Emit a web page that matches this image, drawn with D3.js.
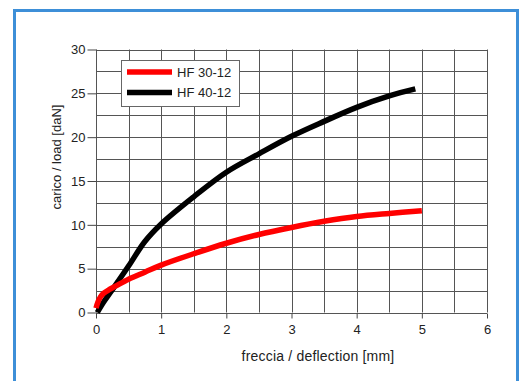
<!DOCTYPE html>
<html>
<head>
<meta charset="utf-8">
<script src="https://cdn.jsdelivr.net/npm/d3@7"></script>
<style>
  body { margin:0; background:#fff; }
  svg text { font-family: "Liberation Sans", Arial, sans-serif; fill:#222; }
</style>
</head>
<body>
<script>
// data
var seriesNames = ["HF 30-12", "HF 40-12"];
var seriesColors = ["#ff0000", "#000000"];
var hf30x = [0, 0.03, 0.07, 0.12, 0.2, 0.3, 0.5, 0.75, 1, 1.5, 2, 2.5, 3, 3.5, 4, 4.5, 5];
var hf30y = [0.5, 1.2, 1.8, 2.2, 2.6, 3.0, 3.8, 4.6, 5.4, 6.7, 7.9, 8.9, 9.7, 10.4, 10.95, 11.3, 11.6];
var hf40x = [0.02, 0.1, 0.25, 0.5, 0.75, 1, 1.5, 2, 2.5, 3, 3.5, 4, 4.5, 4.9];
var hf40y = [0, 1.0, 2.6, 5.3, 8.1, 10.1, 13.2, 16.0, 18.1, 20.1, 21.8, 23.4, 24.7, 25.5];
var xTicks = [0, 1, 2, 3, 4, 5, 6];
var yTicks = [0, 5, 10, 15, 20, 25, 30];

var width = 531, height = 381;
var svg = d3.select("body").append("svg")
  .attr("width", width).attr("height", height);

// blue frame
svg.append("rect")
  .attr("x", 14.5).attr("y", 10.5)
  .attr("width", 503).attr("height", 380)
  .attr("fill", "none").attr("stroke", "#3d8fd8").attr("stroke-width", 3);

var x = d3.scaleLinear().domain([0, 6]).range([96, 487]);
var y = d3.scaleLinear().domain([0, 30]).range([312.5, 49.5]);

var g = svg.append("g");

// grid
var gx = d3.range(0, 6.01, 0.5), gy = d3.range(0, 30.01, 2.5);
g.selectAll(".vx").data(gx).enter().append("line")
  .attr("x1", d => Math.round(x(d)) + 0.5).attr("x2", d => Math.round(x(d)) + 0.5)
  .attr("y1", y(0)).attr("y2", y(30))
  .attr("stroke", "#555").attr("stroke-width", 1);
g.selectAll(".hy").data(gy).enter().append("line")
  .attr("y1", d => Math.round(y(d)) + 0.5).attr("y2", d => Math.round(y(d)) + 0.5)
  .attr("x1", x(0)).attr("x2", x(6))
  .attr("stroke", "#555").attr("stroke-width", 1);

// axes
var xAxis = d3.axisBottom(x).tickValues(xTicks).tickSize(5).tickPadding(6).tickFormat(d3.format("d"));
var yAxis = d3.axisLeft(y).tickValues(yTicks).tickSize(9).tickPadding(2).tickFormat(d3.format("d"));
var ax = svg.append("g").attr("transform", "translate(0," + (Math.round(y(0)) + 0.5) + ")").call(xAxis);
var ay = svg.append("g").attr("transform", "translate(" + (Math.round(x(0)) + 0.5) + ",0)").call(yAxis);
[ax, ay].forEach(function(a){
  a.select(".domain").remove();
  a.selectAll("line").attr("stroke", "#444");
  a.selectAll("text").attr("font-size", "13px").attr("fill", "#222")
    .style("font-family", "'Liberation Sans', Arial, sans-serif");
});

// axis titles
svg.append("text")
  .attr("x", 318).attr("y", 361)
  .attr("text-anchor", "middle").attr("font-size", "14px")
  .style("letter-spacing", "0.2px")
  .text("freccia / deflection [mm]");
svg.append("text")
  .attr("transform", "translate(61,157) rotate(-90)")
  .attr("text-anchor", "middle").attr("font-size", "13px")
  .text("carico / load [daN]");

// lines
var line = d3.line().x(d => x(d[0])).y(d => y(d[1])).curve(d3.curveCatmullRom);
var data = [d3.zip(hf30x, hf30y), d3.zip(hf40x, hf40y)];
// draw black first, red on top
[1, 0].forEach(function(i){
  svg.append("path").datum(data[i])
    .attr("d", line)
    .attr("fill", "none")
    .attr("stroke", seriesColors[i])
    .attr("stroke-width", 5.5);
});

// legend
var lg = svg.append("g");
lg.append("rect")
  .attr("x", 121.5).attr("y", 60.5).attr("width", 118).attr("height", 46)
  .attr("fill", "#fff").attr("stroke", "#666").attr("stroke-width", 1);
seriesNames.forEach(function(n, i){
  var yy = 72 + i * 20.5;
  lg.append("line").attr("x1", 127).attr("x2", 172).attr("y1", yy).attr("y2", yy)
    .attr("stroke", seriesColors[i]).attr("stroke-width", 5.5);
  lg.append("text").attr("x", 177).attr("y", yy + 4.5)
    .attr("font-size", "13px").text(n);
});
</script>
</body>
</html>
